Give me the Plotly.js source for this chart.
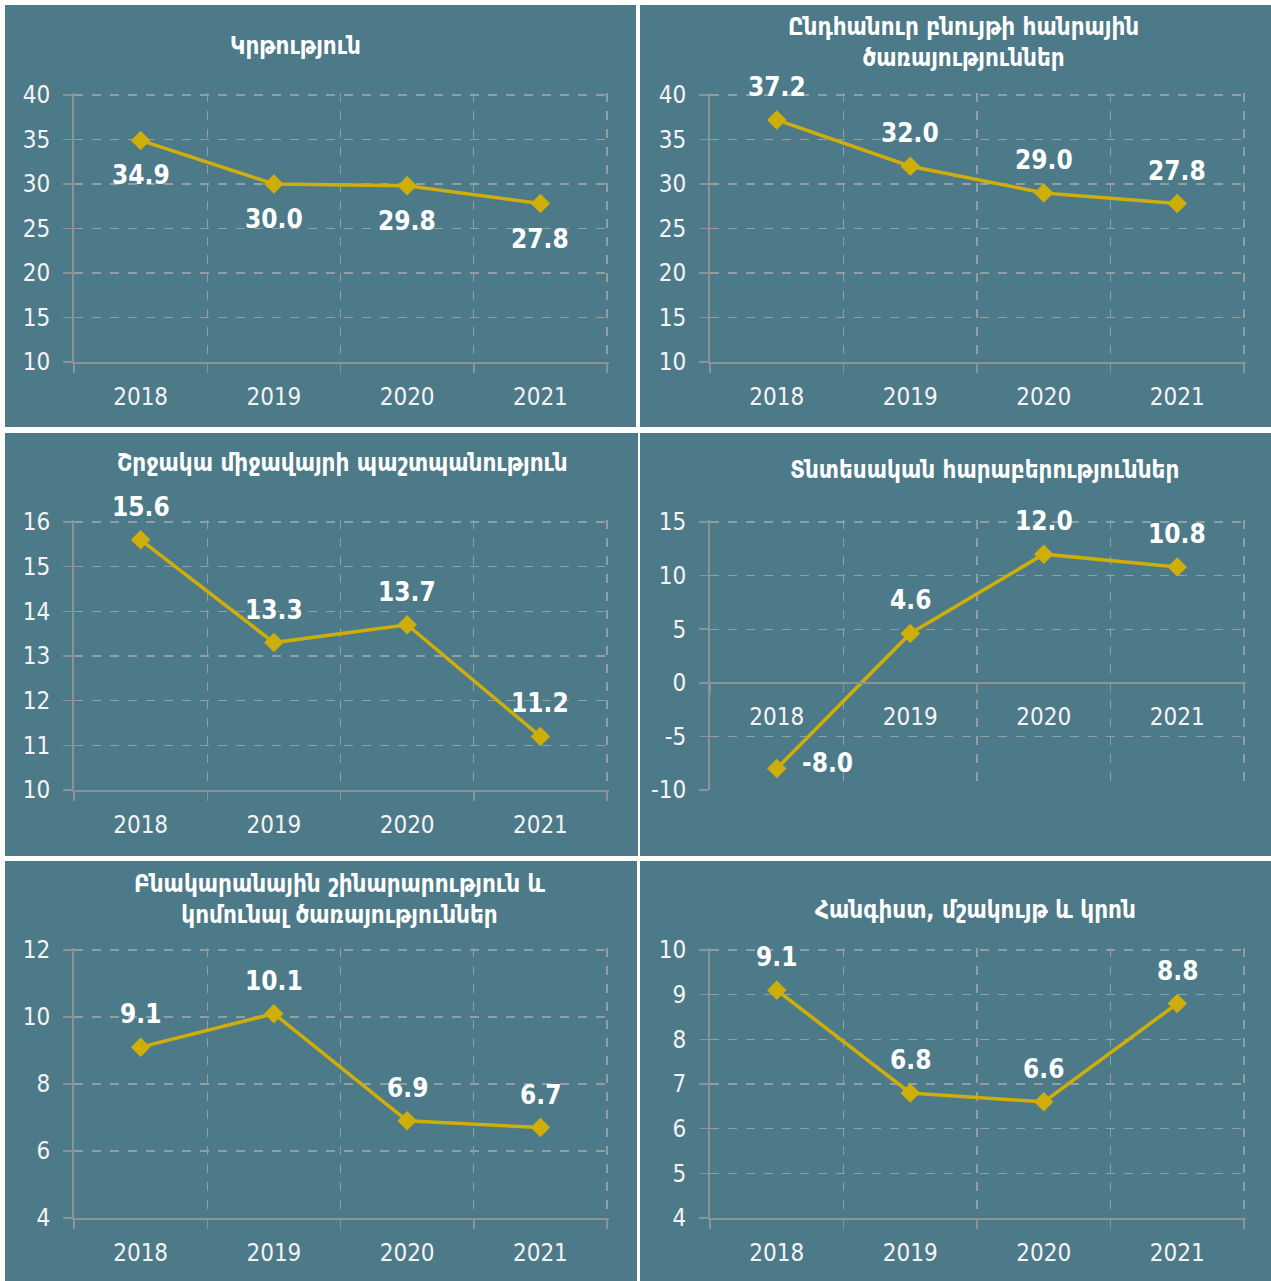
<!DOCTYPE html>
<html>
<head>
<meta charset="utf-8">
<script src="https://cdn.plot.ly/plotly-3.0.1.min.js"></script>
<style>html,body{margin:0;padding:0;background:#fff;}#chart{width:1271px;height:1281px;}</style>
</head>
<body>
<div id="chart"></div>
<script>
// ---- data ----
const years = ['2018', '2019', '2020', '2021'];
const educationVals = [34.9, 30.0, 29.8, 27.8];
const publicServicesVals = [37.2, 32.0, 29.0, 27.8];
const environmentVals = [15.6, 13.3, 13.7, 11.2];
const economicVals = [-8.0, 4.6, 12.0, 10.8];
const housingVals = [9.1, 10.1, 6.9, 6.7];
const recreationVals = [9.1, 6.8, 6.6, 8.8];
const titles = [
  'Կրթություն',
  'Ընդհանուր բնույթի հանրային<br>ծառայություններ',
  'Շրջակա միջավայրի պաշտպանություն',
  'Տնտեսական հարաբերություններ',
  'Բնակարանային շինարարություն և<br>կոմունալ ծառայություններ',
  'Հանգիստ, մշակույթ և կրոն'
];
const yRanges = [[10, 40], [10, 40], [10, 16], [-10, 15], [4, 12], [4, 10]];
const yDticks = [5, 5, 1, 5, 2, 1];
const seriesList = [educationVals, publicServicesVals, environmentVals, economicVals, housingVals, recreationVals];

// ---- layout geometry (pixels) ----
const W = 1271, H = 1281;
const panels = [
  {box: [5, 5, 636, 427],      plot: [74, 95, 607, 362],    title: [295, 46]},
  {box: [640, 5, 1271, 427],   plot: [710, 95, 1244, 362],  title: [963, 42]},
  {box: [5, 433, 638, 856],    plot: [74, 522, 607, 790],   title: [342, 463]},
  {box: [640, 433, 1271, 856], plot: [710, 522, 1244, 790], title: [984, 470]},
  {box: [5, 861, 637, 1281],   plot: [74, 950, 607, 1218],  title: [340, 899]},
  {box: [640, 861, 1271, 1281],plot: [710, 950, 1244, 1218],title: [975, 910]}
];
const labelPos = [
  ['below', 'below', 'below', 'below'],
  ['above', 'above', 'above', 'above'],
  ['above', 'above', 'above', 'above'],
  ['right', 'above', 'above', 'above'],
  ['above', 'above', 'above', 'above'],
  ['above', 'above', 'above', 'above']
];

const BG = '#4d7a89';
const GOLD = '#cfae0a';
const GRID = '#919fa5';
const AXIS = '#8b9396';
const NUMFONT = 'DejaVu Sans Condensed, sans-serif';
const TITLEFONT = 'DejaVu Sans Condensed, DejaVu Sans, sans-serif';
const PAD = 2; // px of extra room so edge gridlines are drawn

const px = x => x / W;
const py = y => 1 - y / H;

const data = [];
const layout = {
  width: W, height: H,
  margin: {l: 0, r: 0, t: 0, b: 0},
  paper_bgcolor: '#ffffff',
  plot_bgcolor: 'rgba(0,0,0,0)',
  showlegend: false,
  shapes: [],
  annotations: []
};

panels.forEach((p, i) => {
  const n = i + 1;
  const xa = n === 1 ? 'x' : 'x' + n, ya = n === 1 ? 'y' : 'y' + n;
  const xk = n === 1 ? 'xaxis' : 'xaxis' + n, yk = n === 1 ? 'yaxis' : 'yaxis' + n;
  const vals = seriesList[i];

  layout.shapes.push({
    type: 'rect', xref: 'paper', yref: 'paper', layer: 'below',
    x0: px(p.box[0]), x1: px(p.box[2]), y0: py(p.box[3]), y1: py(p.box[1]),
    fillcolor: BG, line: {width: 0}
  });

  data.push({
    type: 'scatter', mode: 'lines+markers',
    x: years, y: vals, xaxis: xa, yaxis: ya,
    line: {color: GOLD, width: 3.5},
    marker: {symbol: 'diamond', size: 15, color: GOLD},
    hoverinfo: 'skip', cliponaxis: false
  });

  const xLen = p.plot[2] - p.plot[0];
  const yLen = p.plot[3] - p.plot[1];
  const yd = [py(p.plot[3]), py(p.plot[1] - PAD)];
  const [r0, r1] = yRanges[i];
  const r1p = r1 + PAD / yLen * (r1 - r0);
  const xr1 = 3.5 + PAD / xLen * 4;

  const xaxis = {
    domain: [px(p.plot[0]), px(p.plot[2] + PAD)],
    anchor: ya,
    type: 'category',
    categoryorder: 'array', categoryarray: years,
    range: [-0.5, xr1],
    tickson: 'boundaries',
    ticks: 'outside', ticklen: 9, tickcolor: AXIS, tickwidth: 1.5,
    showgrid: true, gridcolor: GRID, griddash: 'dash', gridwidth: 1.2,
    showline: true, linecolor: AXIS, linewidth: 2,
    tickfont: {family: NUMFONT, size: 24, color: '#f4f4f4'},
    ticklabelstandoff: 12,
    zeroline: false, fixedrange: true
  };
  if (r0 < 0) {
    xaxis.anchor = 'free';
    xaxis.position = py(p.plot[3]) + (0 - r0) / (r1 - r0) * (py(p.plot[1]) - py(p.plot[3]));
  }
  layout[xk] = xaxis;

  const tv = [], tt = [];
  for (let v = r0; v <= r1 + 1e-9; v += yDticks[i]) { tv.push(v); tt.push(String(v)); }
  layout[yk] = {
    domain: yd,
    anchor: xa,
    range: [r0, r1p],
    tickmode: 'array', tickvals: tv, ticktext: tt,
    ticks: 'outside', ticklen: 9, tickcolor: AXIS, tickwidth: 1.5,
    showgrid: true, gridcolor: GRID, griddash: 'dash', gridwidth: 1.2,
    showline: true, linecolor: AXIS, linewidth: 2,
    zeroline: false,
    tickfont: {family: NUMFONT, size: 24, color: '#f4f4f4'},
    ticklabelstandoff: 8,
    fixedrange: true
  };

  // title
  layout.annotations.push({
    xref: 'paper', yref: 'paper', x: px(p.title[0]), y: py(p.title[1]),
    xanchor: 'center', yanchor: 'middle', showarrow: false,
    text: titles[i], align: 'center',
    font: {family: TITLEFONT, size: 24, color: '#ffffff', weight: 700}
  });

  // data labels (x as category index)
  vals.forEach((v, j) => {
    const pos = labelPos[i][j];
    const a = {
      xref: xa, yref: ya, x: j, y: v,
      text: v.toFixed(1), showarrow: false,
      xanchor: 'center', yanchor: 'middle',
      font: {family: NUMFONT, size: 26, color: '#ffffff', weight: 700}
    };
    if (pos === 'above') a.yshift = 33;
    else if (pos === 'below') a.yshift = -35;
    else { a.xshift = 51; a.yshift = 6; }
    layout.annotations.push(a);
  });
});

Plotly.newPlot('chart', data, layout, {staticPlot: true, displayModeBar: false});
</script>
</body>
</html>
